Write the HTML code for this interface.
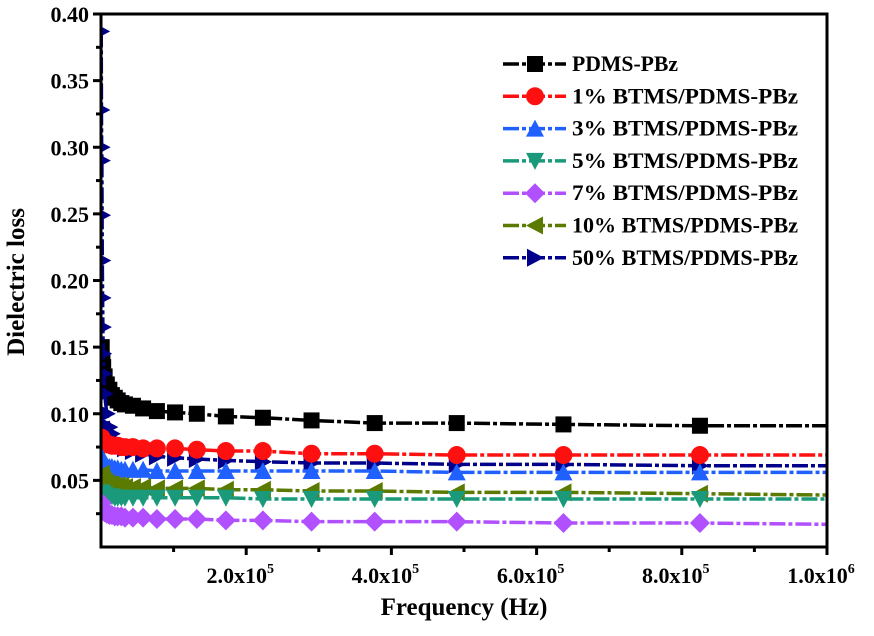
<!DOCTYPE html>
<html><head><meta charset="utf-8"><style>
body{margin:0;background:#fff;}
svg text{font-family:"Liberation Serif",serif;font-weight:bold;}
</style></head><body>
<svg id="chart" width="874" height="631" xmlns="http://www.w3.org/2000/svg"></svg>
<script>
const freqs=[1000,2000,3000,5000,8000,11500,15000,19000,23000,28000,33000,44000,58000,77000,102000,132000,172000,223000,290000,377000,490000,637000,825000,1000000];
const navyFreqs=[300,600,900,1200,1500,1800,2200,2600,3000,3500,5000,8000,11500,15000,19000,23000,33000,44000,58000,77000,102000,132000,172000,223000,290000,377000,490000,637000,825000,1000000];
const sBlack=[0.150,0.140,0.135,0.128,0.122,0.118,0.114,0.112,0.110,0.108,0.107,0.106,0.104,0.102,0.101,0.100,0.098,0.097,0.095,0.093,0.093,0.092,0.091,0.091];
const sRed=[0.082,0.080,0.079,0.078,0.077,0.077,0.076,0.076,0.076,0.075,0.075,0.075,0.074,0.074,0.074,0.073,0.072,0.072,0.070,0.070,0.069,0.069,0.069,0.069];
const sBlue=[0.068,0.065,0.063,0.062,0.061,0.060,0.060,0.059,0.059,0.058,0.058,0.058,0.058,0.057,0.057,0.057,0.057,0.057,0.057,0.057,0.056,0.056,0.056,0.056];
const sTeal=[0.041,0.040,0.039,0.039,0.038,0.038,0.038,0.037,0.037,0.037,0.037,0.037,0.037,0.037,0.037,0.037,0.037,0.036,0.036,0.036,0.036,0.036,0.036,0.036];
const sPurple=[0.033,0.030,0.028,0.026,0.025,0.024,0.024,0.023,0.023,0.023,0.022,0.022,0.022,0.021,0.021,0.021,0.020,0.020,0.019,0.019,0.019,0.018,0.018,0.017];
const sOlive=[0.055,0.052,0.050,0.049,0.048,0.047,0.047,0.046,0.046,0.046,0.045,0.045,0.045,0.044,0.044,0.044,0.043,0.043,0.042,0.042,0.041,0.041,0.040,0.039];
const sNavy=[0.387,0.328,0.300,0.290,0.249,0.215,0.187,0.165,0.145,0.130,0.115,0.100,0.090,0.085,0.080,0.077,0.074,0.072,0.070,0.068,0.067,0.066,0.065,0.064,0.063,0.063,0.062,0.062,0.061,0.061];
const seriesNames=["PDMS-PBz","1% BTMS/PDMS-PBz","3% BTMS/PDMS-PBz","5% BTMS/PDMS-PBz","7% BTMS/PDMS-PBz","10% BTMS/PDMS-PBz","50% BTMS/PDMS-PBz"];
const yTicks=[0.05,0.10,0.15,0.20,0.25,0.30,0.35,0.40];
const yTickLabels=["0.05","0.10","0.15","0.20","0.25","0.30","0.35","0.40"];
const xTicks=[200000,400000,600000,800000,1000000];
const xTickLabels=["2.0x10","4.0x10","6.0x10","8.0x10","1.0x10"];
const xTickExp=["5","5","5","5","6"];

const NS="http://www.w3.org/2000/svg";
const svg=document.getElementById('chart');
const L=101,R=827,T=14,B=547;
const X=v=>L+(v/1e6)*(R-L);
const Y=v=>B-(v/0.40)*(B-T);
function mk(tag,attrs,parent){const e=document.createElementNS(NS,tag);for(const k in attrs)e.setAttribute(k,attrs[k]);(parent||svg).appendChild(e);return e;}

const colors=["#000000","#ff1010","#2060ff","#1a9a7a","#b050ff","#5a7a00","#00008b"];
const data=[sBlack,sRed,sBlue,sTeal,sPurple,sOlive,sNavy];
const xs=[freqs,freqs,freqs,freqs,freqs,freqs,navyFreqs];
const shapes=["square","circle","up","down","diamond","left","right"];
function marker(shape,cx,cy,color,g){
  const s=8;let e;
  if(shape==="square")e=mk('rect',{x:cx-s,y:cy-s,width:2*s,height:2*s,fill:color},g);
  else if(shape==="circle")e=mk('circle',{cx:cx,cy:cy,r:s+1,fill:color},g);
  else{let p;
    if(shape==="up")p=[[cx,cy-s-1],[cx+s+1,cy+s],[cx-s-1,cy+s]];
    else if(shape==="down")p=[[cx,cy+s+1],[cx+s+1,cy-s],[cx-s-1,cy-s]];
    else if(shape==="diamond")p=[[cx,cy-s-2],[cx+s+2,cy],[cx,cy+s+2],[cx-s-2,cy]];
    else if(shape==="left")p=[[cx-s-1,cy],[cx+s,cy-s-1],[cx+s,cy+s+1]];
    else p=[[cx+s+1,cy],[cx-s,cy-s-1],[cx-s,cy+s+1]];
    e=mk('polygon',{points:p.map(q=>q.join(',')).join(' '),fill:color},g);}
  
  
}
const clip=mk('clipPath',{id:'pc'});mk('rect',{x:L,y:T,width:R-L,height:B-T},clip);
const plot=mk('g',{'clip-path':'url(#pc)'});


[0,6,1,2,5,3,4].forEach(i=>{
  const g=mk('g',{},plot);
  
  
  const fx=xs[i];
  const pts=fx.map((f,j)=>X(f)+','+Y(data[i][j])).join(' ');
  mk('polyline',{points:pts,fill:'none',stroke:colors[i],'stroke-width':3.5,'stroke-dasharray':'16,3,4,3'},g);
  fx.forEach((f,j)=>{if(j<fx.length-1)marker(shapes[i],X(f),Y(data[i][j]),colors[i],g);});
});
const ax=mk('g',{});


mk('rect',{x:L,y:T,width:R-L,height:B-T,fill:'none',stroke:'#000','stroke-width':3},ax);
for(let v=0.025;v<=0.40001;v+=0.025){const y=Y(v);const major=Math.abs(v/0.05-Math.round(v/0.05))<1e-6;mk('line',{x1:L,x2:L-(major?8:5),y1:y,y2:y,stroke:'#000','stroke-width':3},ax);}
yTicks.forEach((v,i)=>{const t=mk('text',{x:L-12,y:Y(v)+8,'text-anchor':'end','font-size':22},ax);t.textContent=yTickLabels[i];
 });
for(let v=100000;v<=1000000;v+=100000){const x=X(v);const major=(Math.round(v/100000)%2===0);mk('line',{x1:x,x2:x,y1:B,y2:B+(major?8:5),stroke:'#000','stroke-width':3},ax);}
xTicks.forEach((v,i)=>{const t=mk('text',{x:X(v)-6,y:B+36,'text-anchor':'middle','font-size':22},ax);t.textContent=xTickLabels[i];
 const s=mk('tspan',{dy:-10,'font-size':14},t);s.textContent=xTickExp[i];
 });
const xt=mk('text',{x:464,y:615,'text-anchor':'middle','font-size':25});xt.textContent='Frequency (Hz)';

const yt=mk('text',{x:0,y:0,'text-anchor':'middle','font-size':25,transform:'translate(24,282) rotate(-90)'});yt.textContent='Dielectric loss';

const lg=mk('g',{});


seriesNames.forEach((n,i)=>{
  const y=64+i*32.3;
  const e=mk('g',{},lg);
  
  
  mk('line',{x1:503,x2:566,y1:y,y2:y,stroke:colors[i],'stroke-width':3.5,'stroke-dasharray':'16,3,4,3'},e);
  marker(shapes[i],535,y,colors[i],e);
  const t=mk('text',{x:572,y:y+7,'font-size':22,textLength:n.length>18?240:(n.length>9?226:106),lengthAdjust:'spacingAndGlyphs'},e);t.textContent=n;
});
</script>
</body></html>
